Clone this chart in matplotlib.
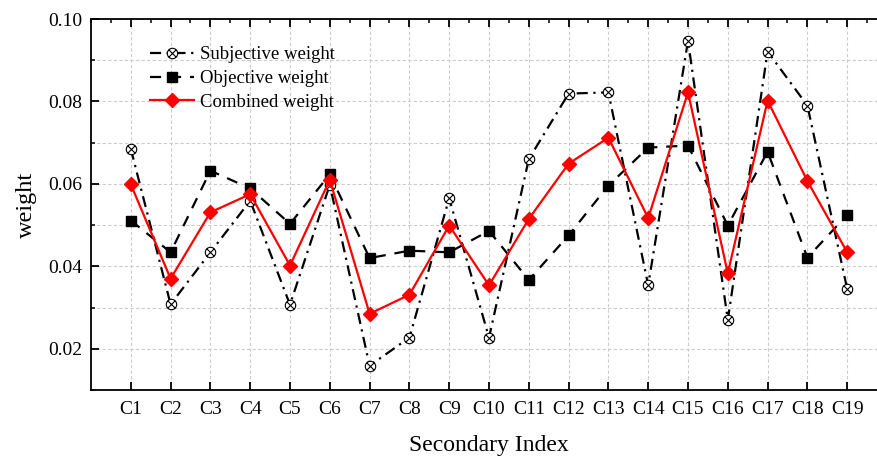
import matplotlib
matplotlib.use("Agg")
import matplotlib.pyplot as plt
from matplotlib.path import Path
from matplotlib.ticker import MultipleLocator
import numpy as np

categories = ["C1", "C2", "C3", "C4", "C5", "C6", "C7", "C8", "C9", "C10",
              "C11", "C12", "C13", "C14", "C15", "C16", "C17", "C18", "C19"]
subjective = [0.0685, 0.0308, 0.0434, 0.0559, 0.0307, 0.0598, 0.0159, 0.0227, 0.0565, 0.0227,
              0.0660, 0.0819, 0.0822, 0.0354, 0.0947, 0.0270, 0.0921, 0.0790, 0.0345]
objective = [0.0511, 0.0434, 0.0632, 0.0589, 0.0503, 0.0623, 0.0420, 0.0438, 0.0434, 0.0486,
             0.0367, 0.0475, 0.0596, 0.0688, 0.0693, 0.0499, 0.0678, 0.0421, 0.0525]
combined = [0.0599, 0.0370, 0.0531, 0.0575, 0.0402, 0.0610, 0.0285, 0.0331, 0.0499, 0.0354,
            0.0515, 0.0649, 0.0712, 0.0517, 0.0822, 0.0383, 0.0802, 0.0607, 0.0434]

plt.rcParams['font.family'] = ['Liberation Serif', 'DejaVu Serif']
plt.rcParams['mathtext.fontset'] = 'stix'

W, H = 878, 457
fig = plt.figure(figsize=(W / 100, H / 100), dpi=100)
left, right, top, bottom = 91, 887, 19, 390
ax = fig.add_axes([left / W, 1 - bottom / H, (right - left) / W, (bottom - top) / H])

x = np.arange(1, len(categories) + 1)

d = 0.7071
otimes = Path.make_compound_path(
    Path.unit_circle(),
    Path([(-d, -d), (d, d)], [Path.MOVETO, Path.LINETO]),
    Path([(-d, d), (d, -d)], [Path.MOVETO, Path.LINETO]),
)

ax.plot(x, subjective, color='black', lw=1.6, linestyle=(0, (5, 2.5, 1, 2.5)),
        marker=otimes, markersize=7.5, markerfacecolor='white', markeredgecolor='black',
        markeredgewidth=0.8, label='Subjective weight', zorder=3)
ax.plot(x, objective, color='black', lw=1.6, linestyle=(0, (5, 4)),
        marker='s', markersize=6.5, markerfacecolor='black', markeredgecolor='black',
        label='Objective weight', zorder=4)
ax.plot(x, combined, color='#ff0000', lw=1.6, linestyle='-',
        marker='D', markersize=7.5, markerfacecolor='#ff0000', markeredgecolor='#ff0000',
        label='Combined weight', zorder=5)

ax.set_xlim(0, 20)
ax.set_ylim(0.01, 0.10)
ax.set_xticks(x)
ax.set_xticklabels(categories)
ax.xaxis.set_minor_locator(MultipleLocator(0.5))
ax.yaxis.set_major_locator(MultipleLocator(0.02))
ax.yaxis.set_minor_locator(MultipleLocator(0.01))
ax.yaxis.set_major_formatter(matplotlib.ticker.FormatStrFormatter('%.2f'))

ax.grid(True, which='major', axis='x', color='#cccccc', linestyle=(0, (3, 2)), lw=0.8)
ax.grid(True, which='both', axis='y', color='#cccccc', linestyle=(0, (3, 2)), lw=0.8)
ax.set_axisbelow(True)

ax.tick_params(axis='both', which='major', direction='in', length=6, width=1.3,
               labelsize=14, top=True, right=False)
ax.tick_params(axis='x', which='minor', direction='in', length=3, width=1.1,
               top=True, bottom=False)
ax.tick_params(axis='y', which='minor', direction='in', length=3, width=1.1)
ax.tick_params(axis='x', which='major', pad=8)
ax.tick_params(axis='y', which='major', pad=6)

for s in ax.spines.values():
    s.set_linewidth(1.3)

ax.set_xlabel('Secondary Index', fontsize=17, labelpad=12)
ax.set_ylabel('weight', fontsize=17.5, labelpad=8)

leg = ax.legend(loc='upper left', bbox_to_anchor=(0.065, 0.947), frameon=False,
                fontsize=13.5, handlelength=2.35, handletextpad=0.3, labelspacing=0.36,
                borderaxespad=0.0)

fig.savefig('out.png', dpi=100)
